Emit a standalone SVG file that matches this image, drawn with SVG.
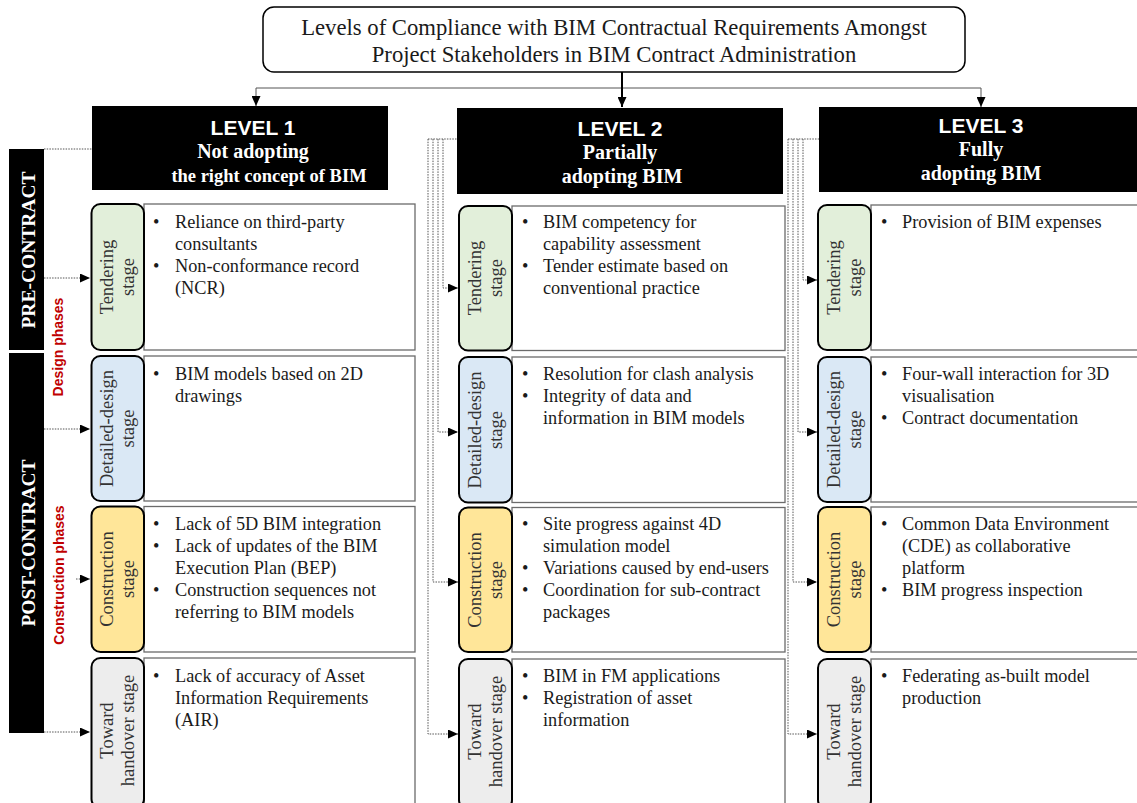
<svg xmlns="http://www.w3.org/2000/svg" width="1137" height="803" viewBox="0 0 1137 803">
<style>
.serif{font-family:"Liberation Serif","Times New Roman",serif}
.sans{font-family:"Liberation Sans",Arial,sans-serif}
.title{font-size:22.7px;fill:#1a1a1a;text-anchor:middle}
.lvl{font-size:21px;font-weight:bold;fill:#fff;text-anchor:middle}
.lvs{font-size:20px;font-weight:bold;fill:#fff;text-anchor:middle}
.bar{fill:#000}
.bartxt{font-size:19.5px;font-weight:bold;fill:#fff;text-anchor:middle}
.red{font-size:14px;font-weight:bold;fill:#c00000;text-anchor:middle}
.stage{stroke:#000;stroke-width:2}
.st{font-size:18.5px;fill:#333;text-anchor:middle}
.cbox{fill:#fff;stroke:#6b6b6b;stroke-width:1.3}
.ct{font-size:18.3px;fill:#1a1a1a}
.g{fill:#e2efda}.b{fill:#dae8f5}.y{fill:#ffe699}.h{fill:#ededed}
.dot{fill:none;stroke:#555;stroke-width:1;stroke-dasharray:1.5 1.2}
.sol{fill:none;stroke:#555;stroke-width:1}
</style>
<defs>
<marker id="ah" markerUnits="userSpaceOnUse" markerWidth="10" markerHeight="9" refX="10" refY="4.5" orient="auto"><path d="M0,0 L10,4.5 L0,9 z" fill="#000"/></marker>
</defs>

<g id="title">
<rect x="263" y="7" width="702" height="65" rx="11" fill="#fff" stroke="#000" stroke-width="1.5"/>
<text class="serif title" x="614" y="35">Levels of Compliance with BIM Contractual Requirements Amongst</text>
<text class="serif title" x="614" y="62">Project Stakeholders in BIM Contract Administration</text>
</g>

<g id="connectors">
<line class="sol" x1="256" y1="88" x2="981" y2="88"/>
<line class="sol" x1="256" y1="88" x2="256" y2="106" marker-end="url(#ah)"/>
<line class="sol" x1="981" y1="88" x2="981" y2="107" marker-end="url(#ah)"/>
<line x1="622" y1="72" x2="622" y2="107" stroke="#000" stroke-width="2" marker-end="url(#ah)"/>
<!-- level 1 via bars -->
<line class="dot" x1="44" y1="149" x2="92" y2="149"/>
<line class="dot" x1="44" y1="278" x2="90" y2="278" marker-end="url(#ah)"/>
<line class="dot" x1="44" y1="429" x2="90" y2="429" marker-end="url(#ah)"/>
<line class="dot" x1="76" y1="579" x2="90" y2="579" marker-end="url(#ah)"/>
<line class="dot" x1="44" y1="732" x2="90" y2="732" marker-end="url(#ah)"/>
<!-- level 2 -->
<line class="dot" x1="428" y1="139" x2="457" y2="139"/>
<polyline class="dot" points="443,139 443,288 458,288" marker-end="url(#ah)"/>
<polyline class="dot" points="438,139 438,432 458,432" marker-end="url(#ah)"/>
<polyline class="dot" points="433,139 433,582 458,582" marker-end="url(#ah)"/>
<polyline class="dot" points="428,139 428,734 458,734" marker-end="url(#ah)"/>
<!-- level 3 -->
<line class="dot" x1="788" y1="139" x2="819" y2="139"/>
<polyline class="dot" points="803,139 803,280 817,280" marker-end="url(#ah)"/>
<polyline class="dot" points="798,139 798,432 817,432" marker-end="url(#ah)"/>
<polyline class="dot" points="793,139 793,582 817,582" marker-end="url(#ah)"/>
<polyline class="dot" points="788,139 788,734 817,734" marker-end="url(#ah)"/>
</g>

<g id="pre-contract">
<rect class="bar" x="9" y="149" width="35" height="201"/>
<text class="serif bartxt" transform="translate(27,250) rotate(-90)" y="8">PRE-CONTRACT</text>
</g>
<g id="post-contract">
<rect class="bar" x="9" y="353" width="35" height="380"/>
<text class="serif bartxt" transform="translate(27,543) rotate(-90)" y="8">POST-CONTRACT</text>
</g>
<g id="design-phases">
<text class="sans red" transform="translate(63,347) rotate(-90)">Design phases</text>
</g>
<g id="construction-phases">
<text class="sans red" transform="translate(64,575) rotate(-90)">Construction phases</text>
</g>

<!-- LEVEL 1 -->
<g id="level1">
<rect x="92" y="106" width="296" height="84" fill="#000"/>
<text class="sans lvl" x="253" y="135">LEVEL 1</text>
<text class="serif lvs" x="253" y="158">Not adopting</text>
<text class="serif lvs" x="269" y="182" style="font-size:18.5px">the right concept of BIM</text>
</g>
<g id="l1-tendering">
<rect class="cbox" x="144" y="204" width="271" height="146"/>
<rect class="stage g" x="91.5" y="204" width="52.5" height="146" rx="9"/>
<text class="serif st" transform="translate(118,277) rotate(-90)"><tspan x="0" y="-5">Tendering</tspan><tspan x="0" y="16">stage</tspan></text>
<text class="serif ct"><tspan x="153" y="228">•</tspan><tspan x="175" y="228">Reliance on third-party</tspan><tspan x="175" y="250">consultants</tspan><tspan x="153" y="272">•</tspan><tspan x="175" y="272">Non-conformance record</tspan><tspan x="175" y="294">(NCR)</tspan></text>
</g>
<g id="l1-detailed">
<rect class="cbox" x="144" y="356" width="271" height="145"/>
<rect class="stage b" x="91.5" y="356" width="52.5" height="145" rx="9"/>
<text class="serif st" transform="translate(118,428.5) rotate(-90)"><tspan x="0" y="-5">Detailed-design</tspan><tspan x="0" y="16">stage</tspan></text>
<text class="serif ct"><tspan x="153" y="380">•</tspan><tspan x="175" y="380">BIM models based on 2D</tspan><tspan x="175" y="402">drawings</tspan></text>
</g>
<g id="l1-construction">
<rect class="cbox" x="144" y="506.5" width="271" height="145.5"/>
<rect class="stage y" x="91.5" y="506.5" width="52.5" height="145.5" rx="9"/>
<text class="serif st" transform="translate(118,579) rotate(-90)"><tspan x="0" y="-5">Construction</tspan><tspan x="0" y="16">stage</tspan></text>
<text class="serif ct"><tspan x="153" y="530">•</tspan><tspan x="175" y="530">Lack of 5D BIM integration</tspan><tspan x="153" y="552">•</tspan><tspan x="175" y="552">Lack of updates of the BIM</tspan><tspan x="175" y="574">Execution Plan (BEP)</tspan><tspan x="153" y="596">•</tspan><tspan x="175" y="596">Construction sequences not</tspan><tspan x="175" y="618">referring to BIM models</tspan></text>
</g>
<g id="l1-handover">
<rect class="cbox" x="144" y="658" width="271" height="150"/>
<rect class="stage h" x="91.5" y="658" width="52.5" height="150" rx="9"/>
<text class="serif st" transform="translate(118,730.5) rotate(-90)"><tspan x="0" y="-5">Toward</tspan><tspan x="0" y="16">handover stage</tspan></text>
<text class="serif ct"><tspan x="153" y="682">•</tspan><tspan x="175" y="682">Lack of accuracy of Asset</tspan><tspan x="175" y="704">Information Requirements</tspan><tspan x="175" y="726">(AIR)</tspan></text>
</g>

<!-- LEVEL 2 -->
<g id="level2">
<rect x="457" y="108" width="326" height="86" fill="#000"/>
<text class="sans lvl" x="620" y="136">LEVEL 2</text>
<text class="serif lvs" x="620" y="159">Partially</text>
<text class="serif lvs" x="622" y="183">adopting BIM</text>
</g>
<g id="l2-tendering">
<rect class="cbox" x="512" y="206" width="273" height="144.5"/>
<rect class="stage g" x="459" y="206" width="53" height="144.5" rx="9"/>
<text class="serif st" transform="translate(485.5,278) rotate(-90)"><tspan x="0" y="-5">Tendering</tspan><tspan x="0" y="16">stage</tspan></text>
<text class="serif ct"><tspan x="522" y="228">•</tspan><tspan x="543" y="228">BIM competency for</tspan><tspan x="543" y="250">capability assessment</tspan><tspan x="522" y="272">•</tspan><tspan x="543" y="272">Tender estimate based on</tspan><tspan x="543" y="294">conventional practice</tspan></text>
</g>
<g id="l2-detailed">
<rect class="cbox" x="512" y="357" width="273" height="145.5"/>
<rect class="stage b" x="459" y="357" width="53" height="145.5" rx="9"/>
<text class="serif st" transform="translate(485.5,430) rotate(-90)"><tspan x="0" y="-5">Detailed-design</tspan><tspan x="0" y="16">stage</tspan></text>
<text class="serif ct"><tspan x="522" y="380">•</tspan><tspan x="543" y="380">Resolution for clash analysis</tspan><tspan x="522" y="402">•</tspan><tspan x="543" y="402">Integrity of data and</tspan><tspan x="543" y="424">information in BIM models</tspan></text>
</g>
<g id="l2-construction">
<rect class="cbox" x="512" y="507.5" width="273" height="144.5"/>
<rect class="stage y" x="459" y="507.5" width="53" height="144.5" rx="9"/>
<text class="serif st" transform="translate(485.5,580) rotate(-90)"><tspan x="0" y="-5">Construction</tspan><tspan x="0" y="16">stage</tspan></text>
<text class="serif ct"><tspan x="522" y="530">•</tspan><tspan x="543" y="530">Site progress against 4D</tspan><tspan x="543" y="552">simulation model</tspan><tspan x="522" y="574">•</tspan><tspan x="543" y="574">Variations caused by end-users</tspan><tspan x="522" y="596">•</tspan><tspan x="543" y="596">Coordination for sub-contract</tspan><tspan x="543" y="618">packages</tspan></text>
</g>
<g id="l2-handover">
<rect class="cbox" x="512" y="659" width="273" height="150"/>
<rect class="stage h" x="459" y="659" width="53" height="150" rx="9"/>
<text class="serif st" transform="translate(485.5,731.5) rotate(-90)"><tspan x="0" y="-5">Toward</tspan><tspan x="0" y="16">handover stage</tspan></text>
<text class="serif ct"><tspan x="522" y="682">•</tspan><tspan x="543" y="682">BIM in FM applications</tspan><tspan x="522" y="704">•</tspan><tspan x="543" y="704">Registration of asset</tspan><tspan x="543" y="726">information</tspan></text>
</g>

<!-- LEVEL 3 -->
<g id="level3">
<rect x="819" y="107" width="320" height="85" fill="#000"/>
<text class="sans lvl" x="981" y="133">LEVEL 3</text>
<text class="serif lvs" x="981" y="156">Fully</text>
<text class="serif lvs" x="981" y="180">adopting BIM</text>
</g>
<g id="l3-tendering">
<rect class="cbox" x="871" y="205" width="270" height="145"/>
<rect class="stage g" x="818" y="205" width="53" height="145" rx="9"/>
<text class="serif st" transform="translate(844.5,277.5) rotate(-90)"><tspan x="0" y="-5">Tendering</tspan><tspan x="0" y="16">stage</tspan></text>
<text class="serif ct"><tspan x="881" y="228">•</tspan><tspan x="902" y="228">Provision of BIM expenses</tspan></text>
</g>
<g id="l3-detailed">
<rect class="cbox" x="871" y="357" width="270" height="145"/>
<rect class="stage b" x="818" y="357" width="53" height="145" rx="9"/>
<text class="serif st" transform="translate(844.5,429.5) rotate(-90)"><tspan x="0" y="-5">Detailed-design</tspan><tspan x="0" y="16">stage</tspan></text>
<text class="serif ct"><tspan x="881" y="380">•</tspan><tspan x="902" y="380">Four-wall interaction for 3D</tspan><tspan x="902" y="402">visualisation</tspan><tspan x="881" y="424">•</tspan><tspan x="902" y="424">Contract documentation</tspan></text>
</g>
<g id="l3-construction">
<rect class="cbox" x="871" y="507" width="270" height="145"/>
<rect class="stage y" x="818" y="507" width="53" height="145" rx="9"/>
<text class="serif st" transform="translate(844.5,579.5) rotate(-90)"><tspan x="0" y="-5">Construction</tspan><tspan x="0" y="16">stage</tspan></text>
<text class="serif ct"><tspan x="881" y="530">•</tspan><tspan x="902" y="530">Common Data Environment</tspan><tspan x="902" y="552">(CDE) as collaborative</tspan><tspan x="902" y="574">platform</tspan><tspan x="881" y="596">•</tspan><tspan x="902" y="596">BIM progress inspection</tspan></text>
</g>
<g id="l3-handover">
<rect class="cbox" x="871" y="659" width="270" height="150"/>
<rect class="stage h" x="818" y="659" width="53" height="150" rx="9"/>
<text class="serif st" transform="translate(844.5,731.5) rotate(-90)"><tspan x="0" y="-5">Toward</tspan><tspan x="0" y="16">handover stage</tspan></text>
<text class="serif ct"><tspan x="881" y="682">•</tspan><tspan x="902" y="682">Federating as-built model</tspan><tspan x="902" y="704">production</tspan></text>
</g>
</svg>
